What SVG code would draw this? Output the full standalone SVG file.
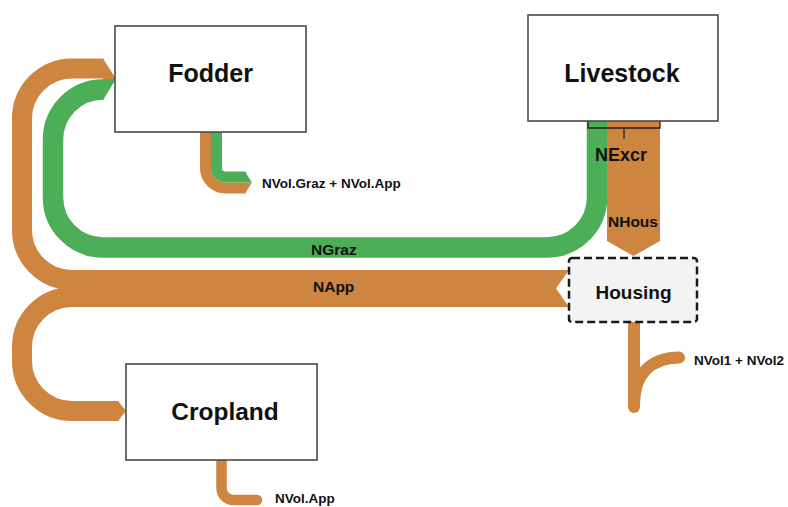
<svg xmlns="http://www.w3.org/2000/svg" width="788" height="507" viewBox="0 0 788 507">
<style>
.o{fill:none;stroke:#cd853f}
.g{fill:none;stroke:#4caf58}
.of{fill:#cd853f}
.gf{fill:#4caf58}
.box{fill:#fff;stroke:#4a4a4a;stroke-width:1.6}
.hous{fill:#f3f3f3;stroke:#1a1a1a;stroke-width:2.5;stroke-dasharray:8 4}
.t{font-family:"Liberation Sans",Arial,sans-serif;font-weight:bold;fill:#111;text-anchor:middle}
.lab{font-family:"Liberation Sans",Arial,sans-serif;font-weight:bold;fill:#111}
</style>
<rect width="788" height="507" fill="#fff"/>
<g id="connectors">
  <polygon class="of" points="70,270 569,270 556,288.5 569,307 70,307"/>
  <path class="o" stroke-width="20" d="M 74 280 H 72 A 50 50 0 0 1 22 230 V 118.5 A 50 50 0 0 1 72 68.5 H 103.5"/>
  <polygon class="of" points="103,58.5 116,79 103,79"/>
  <path class="o" stroke-width="20" d="M 74 297 H 72 A 50 50 0 0 0 22 347 V 361 A 50 50 0 0 0 72 411 H 118.5"/>
  <polygon class="of" points="118,401 126,411 118,421"/>
  <path class="g" stroke-width="20.5" d="M 597 121 V 197.5 A 50 50 0 0 1 547 247.5 H 103 A 50 50 0 0 1 53 197.5 V 139.5 A 50 50 0 0 1 103 89.5 H 103.5"/>
  <polygon class="gf" points="103,79 116,79 103,100"/>
  <polygon class="of" points="607,121 660,121 660,241 633.5,256 607,241"/>
  <path d="M 588 121 V 128 H 660 V 121 M 624 128 V 139" fill="none" stroke="#222" stroke-width="1.3"/>
  <path class="o" stroke-width="11" d="M 205.5 130 V 168 A 20 20 0 0 0 225.5 188 H 245.5"/>
  <path class="g" stroke-width="11" d="M 216.5 130 V 168 A 9 9 0 0 0 225.5 177 H 245.5"/>
  <polygon class="gf" points="245,171.5 252,182.5 245,182.5"/>
  <polygon class="of" points="245,182.5 252,182.5 245,193.5"/>
  <path class="o" stroke-width="10.5" stroke-linecap="round" d="M 221.5 455 V 488 A 12 12 0 0 0 233.5 500 H 257"/>
  <path class="o" stroke-width="12" stroke-linecap="round" d="M 634 318 V 407"/>
  <path class="o" stroke-width="12" stroke-linecap="round" d="M 634 405 C 634 375 650 358 679 357.5"/>
  <text class="lab" x="595" y="161" font-size="18">NExcr</text>
  <text class="lab" x="608" y="227" font-size="15.5">NHous</text>
  <text class="lab" x="311" y="255" font-size="15.5">NGraz</text>
  <text class="lab" x="313" y="292" font-size="15.5">NApp</text>
  <text class="lab" x="262" y="188" font-size="13.5">NVol.Graz + NVol.App</text>
  <text class="lab" x="694" y="365" font-size="13.5">NVol1 + NVol2</text>
  <text class="lab" x="275" y="503" font-size="13.5">NVol.App</text>
</g>
<g id="fodder">
  <rect class="box" x="115" y="26" width="191" height="106"/>
  <text class="t" x="210.5" y="82" font-size="25">Fodder</text>
</g>
<g id="livestock">
  <rect class="box" x="528" y="15" width="190" height="106"/>
  <text class="t" x="622" y="82" font-size="25">Livestock</text>
</g>
<g id="housing">
  <rect class="hous" x="569" y="258" width="128" height="64" rx="3"/>
  <text class="t" x="633.5" y="299" font-size="19">Housing</text>
</g>
<g id="cropland">
  <rect class="box" x="126" y="364" width="191" height="96"/>
  <text class="t" x="225" y="420" font-size="24.5">Cropland</text>
</g>
</svg>
